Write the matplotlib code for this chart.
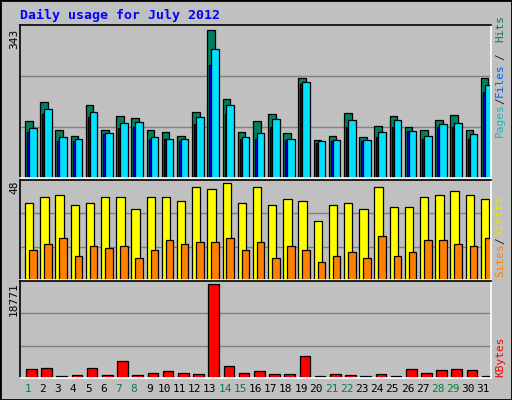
import numpy as np
import matplotlib.pyplot as plt
from matplotlib.patches import Rectangle

days = np.arange(1, 32)
hits = [131, 175, 110, 98, 168, 112, 143, 138, 110, 106, 98, 152, 343, 182, 106, 131,
        147, 103, 231, 87, 98, 150, 94, 120, 143, 118, 112, 133, 145, 112, 231]
pages = [115, 159, 94, 91, 152, 105, 126, 129, 94, 91, 91, 141, 299, 168, 94, 103,
         136, 91, 222, 85, 87, 133, 87, 106, 133, 108, 98, 124, 126, 101, 214]
files = [106, 147, 85, 85, 141, 101, 115, 119, 91, 91, 85, 124, 262, 147, 89, 91,
         117, 87, 217, 82, 85, 119, 85, 94, 119, 108, 89, 117, 117, 91, 199]
visits = [38, 41, 42, 37, 38, 41, 41, 35, 41, 41, 39, 46, 45, 48, 38, 46,
          37, 40, 39, 29, 37, 38, 35, 46, 36, 36, 41, 42, 44, 42, 40]
sites = [15, 18, 21, 12, 17, 16, 17, 11, 15, 20, 18, 19, 19, 21, 15, 19,
         11, 17, 15, 9, 12, 14, 11, 22, 12, 14, 20, 20, 18, 17, 21]
kbytes = [1712, 1918, 480, 685, 1918, 685, 3357, 685, 1096, 1302, 1096, 891, 18771, 2329,
          1096, 1302, 891, 891, 4384, 480, 891, 685, 480, 891, 480, 1712, 1096, 1507,
          1712, 1507, 480]
weekend = [1, 7, 8, 14, 15, 21, 22, 28, 29]

W, H = 512, 400
BG = '#c0c0c0'
fig = plt.figure(figsize=(W / 100, H / 100), dpi=100, facecolor=BG)
fig.patches.append(Rectangle((0, 0), 1, 1, transform=fig.transFigure, fill=False,
                             edgecolor='black', linewidth=2))
mono = 'DejaVu Sans Mono'

def panel(y0, y1):
    # pixel box -> axes
    ax = fig.add_axes([20 / W, 1 - y1 / H, 471 / W, (y1 - y0) / H], facecolor=BG)
    ax.set_xlim(0, 31)
    ax.set_xticks([])
    ax.set_yticks([])
    for s in ax.spines.values():
        s.set_linewidth(1.2)
    ax.spines['bottom'].set_color('white')
    ax.spines['right'].set_color('white')
    return ax

def grid(ax, top):
    lim = top / 0.97
    ax.set_ylim(0, lim)
    for f in (1 / 3, 2 / 3):
        ax.axhline(lim * f, color='#808080', linewidth=1, zorder=0)

x = days - 1
kw = dict(align='edge', edgecolor='black', linewidth=0.9, zorder=2)

ax1 = panel(25, 178)
grid(ax1, max(hits))
ax1.bar(x + 0.33, hits, 0.5, color='#00805c', **kw)
ax1.bar(x + 0.46, files, 0.2, color='#0000ff', **kw)
ax1.bar(x + 0.59, pages, 0.5, color='#00e0ff', **kw)

ax2 = panel(180, 280)
grid(ax2, max(visits))
ax2.bar(x + 0.33, visits, 0.55, color='#ffff00', **kw)
ax2.bar(x + 0.59, sites, 0.5, color='#ff8000', **kw)

ax3 = panel(281, 378)
grid(ax3, max(kbytes))
ax3.bar(x + 0.4, kbytes, 0.7, color='#ff0000', **kw)

def ftext(px, py, s, **k):
    fig.text(px / W, 1 - py / H, s, family=mono, **k)

ftext(20, 15, 'Daily usage for July 2012', color='#0000ff', fontsize=9.5,
      fontweight='bold', va='center')
for py, s in [(29, str(max(hits))), (181, str(max(visits))), (282, str(max(kbytes)))]:
    ftext(14, py, s, rotation=90, fontsize=8, ha='center', va='top')

for py, s, c in [(137, 'Pages', '#00c0d0'), (104, '/', '#202020'), (97, 'Files', '#0060ff'),
                 (60, '/', '#202020'), (42, 'Hits', '#00805c'),
                 (277, 'Sites', '#ff8000'), (244, '/', '#202020'), (236, 'Visits', '#e8e800'),
                 (377, 'KBytes', '#ff0000')]:
    ftext(500, py, s, rotation=90, fontsize=8, ha='center', va='bottom', color=c)

for d in days:
    ftext(20 + (d - 0.5) * 471 / 31, 389, str(d), fontsize=8, ha='center', va='center',
          color='#008040' if d in weekend else 'black')

fig.savefig('out.png', dpi=100, facecolor=BG)
